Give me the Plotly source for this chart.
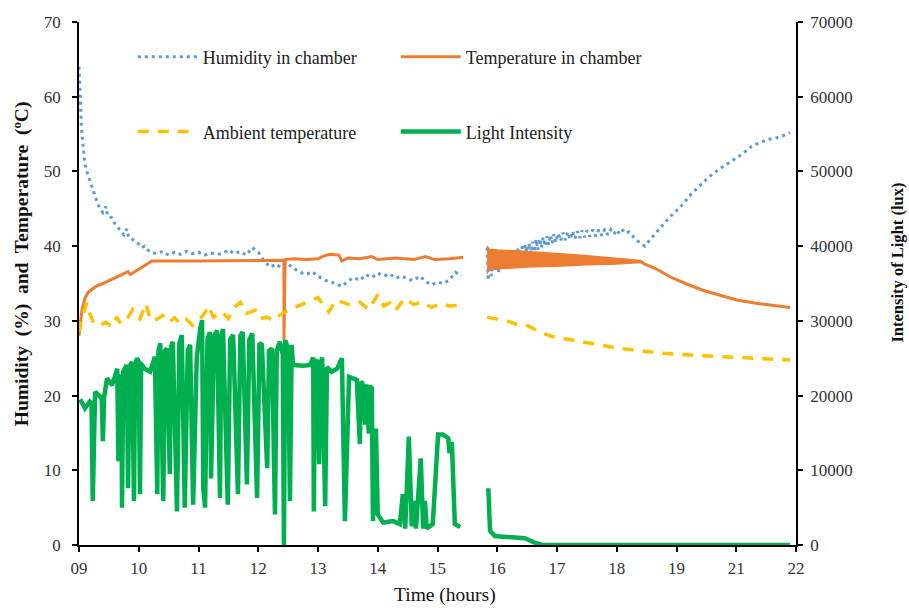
import plotly.graph_objects as go

# ---- axis labelling -------------------------------------------------------
# Time axis is drawn on an evenly spaced index scale, one step per label.
tick_pos = list(range(13))
tick_labels = ["09", "10", "11", "12", "13", "14", "15", "16", "17", "18", "19", "21", "22"]

# ---- humidity in chamber (%) ---------------------------------------------
hum1_t = [0.00, 0.01, 0.02, 0.04, 0.06, 0.08, 0.10, 0.13, 0.17, 0.20, 0.25, 0.30, 0.35, 0.40,
          0.45, 0.48, 0.55, 0.60, 0.65, 0.70, 0.75, 0.80, 0.83, 0.88, 0.95, 1.00, 1.05, 1.10,
          1.15, 1.20, 1.30, 1.40, 1.50, 1.60, 1.70, 1.80, 1.90, 2.00, 2.10, 2.20, 2.30, 2.40,
          2.50, 2.60, 2.70, 2.80, 2.90, 3.00, 3.10, 3.20, 3.30, 3.40, 3.50, 3.60, 3.70, 3.80,
          3.90, 4.00, 4.10, 4.20, 4.30, 4.40, 4.50, 4.60, 4.70, 4.80, 4.90, 5.00, 5.10, 5.20,
          5.30, 5.40, 5.50, 5.60, 5.70, 5.80, 5.90, 6.00, 6.10, 6.20, 6.30, 6.40]
hum1_v = [64.0, 62.0, 59.0, 56.0, 54.0, 52.0, 51.0, 50.0, 49.0, 48.2, 47.0, 46.0, 45.0, 44.5,
          45.3, 44.0, 43.8, 43.0, 42.5, 42.0, 41.5, 42.3, 41.2, 41.0, 40.5, 40.3, 39.8, 40.0,
          39.5, 39.2, 39.0, 39.3, 38.8, 39.2, 38.9, 39.3, 39.0, 39.2, 38.8, 39.1, 38.9, 39.0,
          39.5, 39.0, 39.3, 38.8, 39.8, 39.2, 38.0, 37.2, 37.6, 37.0, 37.6, 37.0, 36.5, 36.2,
          36.6, 36.0, 35.5, 35.2, 35.0, 34.6, 35.3, 35.8, 35.4, 36.2, 35.8, 36.4, 36.0, 36.3,
          35.7, 36.0, 35.6, 35.4, 36.0, 35.3, 34.8, 35.2, 35.0, 35.5, 36.5, 36.0]
hum2_t = [6.83, 6.85, 6.87, 6.90, 6.93, 6.96, 6.99, 7.02, 7.05, 7.08, 7.11, 7.14, 7.17, 7.20,
          7.23, 7.26, 7.29, 7.32, 7.35, 7.38, 7.41, 7.44, 7.47, 7.50, 7.53, 7.56, 7.59, 7.62,
          7.65, 7.68, 7.71, 7.74, 7.77, 7.80, 7.83, 7.86, 7.89, 7.92, 7.95, 7.98, 8.02, 8.06,
          8.10, 8.14, 8.18, 8.22, 8.26, 8.30, 8.34, 8.38, 8.42, 8.46, 8.50, 8.55, 8.60, 8.65,
          8.70, 8.75, 8.80, 8.85, 8.90, 8.95, 9.00, 9.05, 9.10, 9.15, 9.20, 9.27, 9.33, 9.40,
          9.47, 9.55, 9.72, 9.90, 10.06, 10.25, 10.39, 10.55, 10.73, 10.90, 11.06, 11.25,
          11.40, 11.55, 11.73, 11.90]
hum2_v = [39.8, 35.4, 38.8, 36.0, 38.3, 36.6, 38.0, 36.4, 38.4, 36.9, 38.7, 37.0, 39.0, 37.4,
          39.2, 37.6, 39.5, 38.0, 39.7, 38.2, 40.0, 38.5, 40.2, 38.7, 40.4, 39.0, 40.6, 39.2,
          40.9, 39.5, 41.0, 39.8, 41.2, 40.0, 41.3, 40.2, 41.5, 40.4, 41.6, 40.5, 41.7, 40.7,
          41.8, 40.8, 41.9, 40.9, 42.0, 41.0, 42.0, 41.1, 42.1, 41.2, 42.1, 41.3, 42.2, 41.3,
          42.2, 41.4, 42.3, 41.5, 42.2, 41.6, 42.2, 41.6, 42.1, 41.7, 41.9, 41.3, 40.8, 40.4,
          40.0, 40.8, 42.3, 44.0, 45.2, 47.0, 48.1, 49.3, 50.4, 51.3, 52.1, 53.3,
          53.9, 54.3, 54.6, 55.2]

# ---- temperature in chamber (degC) ---------------------------------------
temp1_t = [0.00, 0.02, 0.05, 0.10, 0.15, 0.23, 0.30, 0.40, 0.50, 0.64, 0.75, 0.82, 0.86, 0.95,
           1.02, 1.10, 1.17, 1.22, 2.00, 3.00, 3.40, 3.43, 3.43, 3.45, 3.60, 3.80, 4.00, 4.10,
           4.20, 4.35, 4.40, 4.50, 4.70, 4.90, 5.00, 5.30, 5.60, 5.80, 5.95, 6.20, 6.43]
temp1_v = [28.0, 29.5, 31.5, 33.0, 33.8, 34.3, 34.7, 35.0, 35.4, 35.9, 36.4, 36.6, 36.2, 36.6,
           37.0, 37.4, 37.7, 38.0, 38.0, 38.1, 38.1, 38.0, 27.4, 38.2, 38.3, 38.2, 38.3, 38.7,
           38.9, 38.8, 38.0, 38.4, 38.3, 38.6, 38.2, 38.4, 38.2, 38.6, 38.2, 38.3, 38.5]
# fast-cycling stretch after the break: upper and lower extent of the trace
temp_band_t = [6.83, 6.86, 7.00, 7.50, 8.00, 8.50, 9.00, 9.39]
temp_band_hi = [40.0, 39.6, 39.5, 39.3, 39.0, 38.7, 38.4, 38.1]
temp_band_lo = [36.3, 36.9, 37.0, 37.2, 37.3, 37.5, 37.6, 37.8]
temp2_t = [9.39, 9.47, 9.65, 9.89, 10.15, 10.44, 10.70, 11.01, 11.30, 11.56, 11.90]
temp2_v = [38.0, 37.6, 37.0, 35.9, 35.0, 34.1, 33.5, 32.8, 32.4, 32.1, 31.8]

# ---- ambient temperature (degC) ------------------------------------------
amb1_t = [0.00, 0.03, 0.07, 0.13, 0.18, 0.25, 0.35, 0.45, 0.55, 0.63, 0.70, 0.80, 0.90, 1.02,
          1.12, 1.20, 1.30, 1.40, 1.50, 1.60, 1.70, 1.80, 1.90, 2.00, 2.10, 2.17, 2.25, 2.40,
          2.50, 2.60, 2.70, 2.80, 2.95, 3.03, 3.15, 3.25, 3.40, 3.55, 3.70, 3.85, 4.00, 4.08,
          4.18, 4.30, 4.40, 4.55, 4.70, 4.85, 5.00, 5.10, 5.20, 5.30, 5.45, 5.60, 5.75, 5.90,
          6.05, 6.20, 6.38]
amb1_v = [28.5, 29.5, 31.0, 32.4, 31.0, 29.6, 29.4, 29.8, 29.2, 30.5, 29.6, 30.2, 31.5, 30.3,
          32.3, 30.0, 30.2, 30.7, 29.8, 30.4, 29.6, 30.2, 29.4, 30.0, 31.0, 32.0, 30.5, 31.2,
          30.3, 31.8, 32.5, 31.0, 31.4, 30.3, 30.5, 30.0, 31.0, 31.6, 32.1, 32.5, 33.1, 32.2,
          31.2, 32.8, 32.5, 32.1, 32.5, 31.5, 33.5, 32.0, 32.4, 31.4, 33.0, 32.2, 32.5, 31.8,
          32.3, 32.0, 32.1]
amb2_t = [6.83, 6.95, 7.05, 7.20, 7.30, 7.50, 7.72, 7.92, 8.13, 8.39, 8.72, 9.05, 9.39, 9.70,
          10.06, 10.40, 10.73, 11.06, 11.40, 11.73, 11.90]
amb2_v = [30.5, 30.3, 30.2, 29.9, 29.6, 29.4, 28.5, 27.9, 27.6, 27.2, 26.7, 26.3, 26.0, 25.7,
          25.5, 25.3, 25.2, 25.1, 24.9, 24.8, 24.8]

# ---- light intensity (lux) -----------------------------------------------
light1_t = [0.02, 0.10, 0.18, 0.21, 0.23, 0.25, 0.27, 0.35, 0.38, 0.40, 0.42, 0.47, 0.55, 0.60,
            0.64, 0.66, 0.68, 0.71, 0.72, 0.74, 0.80, 0.82, 0.85, 0.89, 0.92, 0.94, 0.97, 1.00,
            1.02, 1.04, 1.05, 1.10, 1.19, 1.27, 1.31, 1.33, 1.36, 1.41, 1.44, 1.47, 1.52, 1.54,
            1.57, 1.64, 1.68, 1.72, 1.77, 1.82, 1.86, 1.91, 1.97, 2.03, 2.06, 2.08, 2.11, 2.15,
            2.19, 2.21, 2.26, 2.31, 2.36, 2.38, 2.41, 2.49, 2.53, 2.58, 2.66, 2.70, 2.74, 2.81,
            2.85, 2.90, 2.98, 3.02, 3.06, 3.15, 3.18, 3.23, 3.28, 3.31, 3.36, 3.41, 3.43, 3.45,
            3.50, 3.53, 3.56, 3.58, 3.75, 3.87, 3.92, 3.93, 3.95, 3.98, 4.02, 4.05, 4.07, 4.12,
            4.15, 4.23, 4.32, 4.40, 4.45, 4.52, 4.65, 4.70, 4.72, 4.74, 4.79, 4.81, 4.85, 4.87,
            4.90, 4.92, 4.97, 5.00, 5.09, 5.26, 5.37, 5.42, 5.46, 5.52, 5.57, 5.61, 5.64, 5.72,
            5.76, 5.79, 5.82, 5.92, 6.01, 6.09, 6.18, 6.20, 6.24, 6.29, 6.38]
light1_v = [19500, 18300, 19200, 19000, 5900, 19500, 20500, 19900, 19500, 13900, 19800, 22300,
            21400, 22500, 23600, 11200, 22800, 22000, 5000, 23200, 24100, 7600, 24000, 24500,
            5900, 24000, 25000, 24500, 6800, 24000, 24100, 23600, 23200, 25200, 6800, 26000,
            27000, 5900, 26000, 26300, 9500, 26500, 27200, 4500, 27000, 28100, 5000, 26000,
            26800, 5400, 25000, 29000, 30100, 7600, 5000, 27500, 28500, 8900, 28000, 28700,
            6300, 27800, 28900, 5400, 27500, 28100, 6800, 28000, 28500, 8100, 27500, 28300,
            6300, 27000, 26800, 10300, 26000, 26300, 4100, 26000, 27200, 25500, 0, 27400,
            26300, 5900, 26800, 24100, 24000, 24100, 25100, 4500, 24500, 24800, 10800, 24500,
            25100, 5200, 23800, 23200, 23600, 25000, 3200, 22500, 22100, 13500, 21800, 21700,
            16100, 21500, 14900, 21300, 21000, 3200, 15600, 4100, 3000, 3200, 2800, 6800, 2200,
            14500, 2500, 5900, 2200, 11600, 2200, 5900, 2200, 2800, 14800, 14800, 14300, 12300,
            13800, 2800, 2400]
light2_t = [6.85, 6.88, 6.96, 7.26, 7.46, 7.60, 7.75, 11.90]
light2_v = [7600, 1900, 1200, 1100, 900, 400, 0, 0]

BLUE = "#5B9BD5"
ORANGE = "#ED7D31"
GOLD = "#FFC000"
GREEN = "#00B050"
SERIF = "Liberation Serif, Times New Roman, serif"


def joined(t_a, v_a, t_b, v_b):
    """Two recording sessions joined with a break between them."""
    return t_a + [None] + t_b, v_a + [None] + v_b


fig = go.Figure()

ht, hv = joined(hum1_t, hum1_v, hum2_t, hum2_v)
fig.add_trace(go.Scatter(x=ht, y=hv, mode="lines", name="Humidity in chamber",
                         line=dict(color=BLUE, width=3, dash="3px,4px"),
                         legend="legend"))

tt, tv = joined(temp1_t, temp1_v, temp2_t, temp2_v)
fig.add_trace(go.Scatter(x=tt, y=tv, mode="lines", name="Temperature in chamber",
                         line=dict(color=ORANGE, width=3), legend="legend"))
fig.add_trace(go.Scatter(x=temp_band_t + temp_band_t[::-1],
                         y=temp_band_hi + temp_band_lo[::-1],
                         mode="lines", fill="toself", fillcolor=ORANGE,
                         line=dict(color=ORANGE, width=1.5), showlegend=False,
                         hoverinfo="skip"))

at, av = joined(amb1_t, amb1_v, amb2_t, amb2_v)
fig.add_trace(go.Scatter(x=at, y=av, mode="lines", name="Ambient temperature",
                         line=dict(color=GOLD, width=3.5, dash="11px,9px"),
                         legend="legend2"))

lt, lv = joined(light1_t, light1_v, light2_t, light2_v)
fig.add_trace(go.Scatter(x=lt, y=lv, mode="lines", name="Light Intensity",
                         line=dict(color=GREEN, width=4.5), yaxis="y2",
                         legend="legend2"))

axis_common = dict(showgrid=False, zeroline=False, showline=True, linecolor="black",
                   linewidth=1.5, ticks="outside", ticklen=5, tickcolor="black",
                   tickwidth=1.5,
                   tickfont=dict(family=SERIF, size=17, color="#333333"))

legend_common = dict(orientation="h", xanchor="left", yanchor="middle",
                     bgcolor="rgba(0,0,0,0)", font=dict(family=SERIF, size=18, color="#222222"),
                     itemwidth=60, entrywidth=188, traceorder="normal")

fig.update_layout(
    width=909, height=608,
    margin=dict(l=79, r=113, t=22, b=63),
    paper_bgcolor="white", plot_bgcolor="white",
    xaxis=dict(range=[0, 12], tickmode="array", tickvals=tick_pos, ticktext=tick_labels,
               ticklabelstandoff=2, **axis_common),
    yaxis=dict(range=[0, 70], dtick=10, ticklabelstandoff=8, **axis_common),
    yaxis2=dict(range=[0, 70000], dtick=10000, tickformat="d", overlaying="y",
                side="right", ticklabelstandoff=4, **axis_common),
    legend=dict(x=0.075, y=0.933, **legend_common),
    legend2=dict(x=0.075, y=0.79, **legend_common),
    annotations=[
        dict(text="Time (hours)", xref="paper", yref="paper", x=0.511, y=0, xanchor="center",
             yanchor="middle", yshift=-50, showarrow=False,
             font=dict(family=SERIF, size=19.5, color="#111111")),
        dict(text="Humidity\u00a0 (%)\u00a0 and\u00a0 Temperature\u00a0 (ºC)", xref="paper",
             yref="paper", x=0, xshift=-57, y=0.537, xanchor="center", yanchor="middle",
             textangle=-90, showarrow=False,
             font=dict(family=SERIF, size=19.5, color="#111111", weight="bold")),
        dict(text="Intensity of Light (lux)", xref="paper", yref="paper", x=1, xshift=102,
             y=0.54, xanchor="center", yanchor="middle", textangle=-90, showarrow=False,
             font=dict(family=SERIF, size=16.5, color="#111111", weight="bold")),
    ],
)

fig.write_html("out.html")
